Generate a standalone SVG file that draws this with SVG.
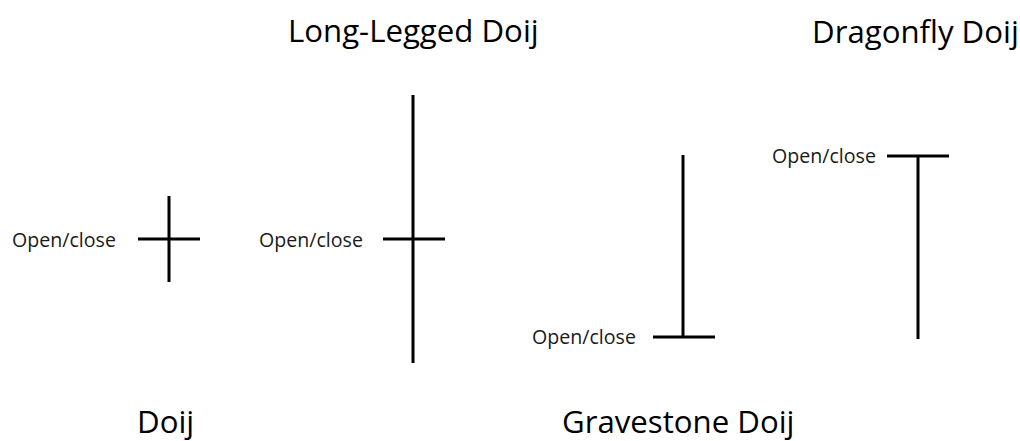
<svg xmlns="http://www.w3.org/2000/svg" width="1020" height="441" viewBox="0 0 1020 441">
<style>
.ln{stroke:#000;stroke-width:3;fill:none}
.lbl{font-family:"Open Sans","Liberation Sans",sans-serif;font-size:19.6px;fill:#1a1a1a}
.ttl{font-family:"Open Sans","Liberation Sans",sans-serif;font-size:31.2px;fill:#000}
</style>
<rect width="1020" height="441" fill="#fff"/>
<g id="doij">
<line class="ln" x1="169" y1="196" x2="169" y2="282"/>
<line class="ln" x1="138" y1="239" x2="200" y2="239"/>
<text class="lbl" x="12" y="247">Open/close</text>
<text class="ttl" x="137" y="433">Doij</text>
</g>
<g id="long-legged-doij">
<line class="ln" x1="413" y1="95" x2="413" y2="363"/>
<line class="ln" x1="383" y1="239" x2="445" y2="239"/>
<text class="lbl" x="259" y="247">Open/close</text>
<text class="ttl" x="288" y="42">Long-Legged Doij</text>
</g>
<g id="gravestone-doij">
<line class="ln" x1="683" y1="155" x2="683" y2="337"/>
<line class="ln" x1="653" y1="337" x2="715" y2="337"/>
<text class="lbl" x="532" y="344">Open/close</text>
<text class="ttl" x="562" y="433">Gravestone Doij</text>
</g>
<g id="dragonfly-doij">
<line class="ln" x1="918" y1="156" x2="918" y2="339"/>
<line class="ln" x1="887" y1="156" x2="949" y2="156"/>
<text class="lbl" x="772" y="163">Open/close</text>
<text class="ttl" x="812" y="43">Dragonfly Doij</text>
</g>
<g id="connectors"/>
</svg>
